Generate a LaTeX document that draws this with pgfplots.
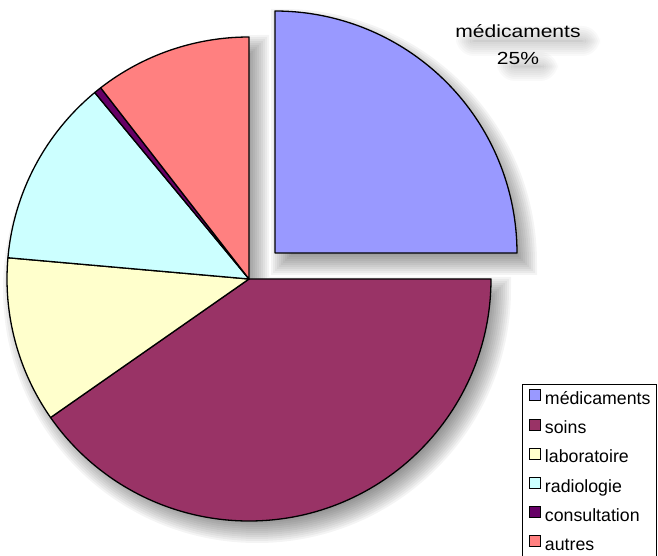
\documentclass[border=0pt]{standalone}
\usepackage{pgfplots}
\pgfplotsset{compat=1.18}
\usepackage{pgfplotstable}
\usepackage{graphicx}
\usepackage{fontspec}
\setmainfont{Liberation Sans}

\definecolor{cmed}{HTML}{9999FF}
\definecolor{csoins}{HTML}{993366}
\definecolor{clab}{HTML}{FFFFCC}
\definecolor{cradio}{HTML}{CCFFFF}
\definecolor{cconsult}{HTML}{660066}
\definecolor{cautres}{HTML}{FF8080}

\pgfplotstableread{
name value
médicaments 25
soins 40.3
laboratoire 11.1
radiologie 12.6
consultation 0.5
autres 10.5
}\piedata

\newcommand\getval[2]{\pgfplotstablegetelem{#1}{value}\of\piedata\edef#2{\pgfplotsretval}}

\begin{document}
\begin{tikzpicture}
\getval{0}\vA \getval{1}\vB \getval{2}\vC \getval{3}\vD \getval{4}\vE \getval{5}\vF
\pgfmathsetmacro\aA{90}
\pgfmathsetmacro\aB{\aA-3.6*\vA}
\pgfmathsetmacro\aC{\aB-3.6*\vB}
\pgfmathsetmacro\aD{\aC-3.6*\vC}
\pgfmathsetmacro\aE{\aD-3.6*\vD}
\pgfmathsetmacro\aF{\aE-3.6*\vE}
\pgfmathsetmacro\aG{\aF-3.6*\vF}
\def\R{242}
\def\cx{249}\def\cy{277}
\def\mx{275}\def\my{303}
\begin{axis}[hide axis, scale only axis, x=1bp, y=1bp,
  xmin=0, xmax=658, ymin=0, ymax=556, clip=false,
  legend style={at={(0.7933,0.3094)}, anchor=north west, draw=black, line width=1bp, fill=white,
    font=\fontsize{17.8}{20}\selectfont, inner xsep=6.5bp, inner ysep=5bp, row sep=10.7bp,
    nodes={inner sep=0pt, text height=12.5bp, text depth=3.5bp},
    /tikz/every odd column/.append style={column sep=4bp}},
  legend cell align=left,
  legend image code/.code={\draw[#1, line width=1bp] (0bp,-1bp) rectangle (11bp,10bp);},
]
% pie shadows
\pgfplotsinvokeforeach{-12,-10,...,12}{
  \fill[black, opacity=0.045] (axis cs:{\cx+8+#1},{\cy-10+#1}) -- (axis cs:{\cx+8+\R+#1},{\cy-10+#1})
    -- (axis cs:{\cx+8+\R+#1},{\cy-10}) arc[start angle=0, end angle=-270, radius={(\R+#1)*1bp}]
    -- (axis cs:{\cx+8+#1},{\cy-10+\R+#1}) -- cycle;
  \fill[black, opacity=0.045] (axis cs:{\mx+8-#1},{\my-10-#1}) -- (axis cs:{\mx+8-#1},{\my-10+\R+#1})
    -- (axis cs:{\mx+8},{\my-10+\R+#1}) arc[start angle=90, end angle=0, radius={(\R+#1)*1bp}]
    -- (axis cs:{\mx+8+\R+#1},{\my-10-#1}) -- cycle;
}
% label shadow (soft blur)
\pgfplotsinvokeforeach{-6,-4,...,10}{
  \fill[black, opacity=0.022, rounded corners={(8+#1)*1bp}] (axis cs:{466-#1},{510-#1}) rectangle (axis cs:{590+#1},{520+#1});
  \fill[black, opacity=0.022, rounded corners={(8+#1)*1bp}] (axis cs:{507-#1},{485-#1}) rectangle (axis cs:{548+#1},{494+#1});
}
% wedges
\tikzset{wedge/.style={draw=black, line width=1.3bp, line join=round}}
\filldraw[fill=cmed, wedge] (axis cs:\mx,\my) -- (axis cs:{\mx+\R*cos(\aA)},{\my+\R*sin(\aA)})
  arc[start angle=\aA, end angle=\aB, radius=242bp] -- cycle;
\filldraw[fill=csoins, wedge] (axis cs:\cx,\cy) -- (axis cs:{\cx+\R*cos(\aB)},{\cy+\R*sin(\aB)})
  arc[start angle=\aB, end angle=\aC, radius=242bp] -- cycle;
\filldraw[fill=clab, wedge] (axis cs:\cx,\cy) -- (axis cs:{\cx+\R*cos(\aC)},{\cy+\R*sin(\aC)})
  arc[start angle=\aC, end angle=\aD, radius=242bp] -- cycle;
\filldraw[fill=cradio, wedge] (axis cs:\cx,\cy) -- (axis cs:{\cx+\R*cos(\aD)},{\cy+\R*sin(\aD)})
  arc[start angle=\aD, end angle=\aE, radius=242bp] -- cycle;
\filldraw[fill=cconsult, wedge] (axis cs:\cx,\cy) -- (axis cs:{\cx+\R*cos(\aE)},{\cy+\R*sin(\aE)})
  arc[start angle=\aE, end angle=\aF, radius=242bp] -- cycle;
\filldraw[fill=cautres, wedge] (axis cs:\cx,\cy) -- (axis cs:{\cx+\R*cos(\aF)},{\cy+\R*sin(\aF)})
  arc[start angle=\aF, end angle=\aG, radius=242bp] -- cycle;
% label
\node[anchor=base, font=\fontsize{17.6}{20}\selectfont] at (axis cs:518,518) {\scalebox{1.2}[1]{médicaments}};
\node[anchor=base, font=\fontsize{17.6}{20}\selectfont] at (axis cs:518,491) {\scalebox{1.2}[1]{25\%}};
% legend
\addlegendimage{fill=cmed, draw=black}
\addlegendentry{médicaments}
\addlegendimage{fill=csoins, draw=black}
\addlegendentry{soins}
\addlegendimage{fill=clab, draw=black}
\addlegendentry{laboratoire}
\addlegendimage{fill=cradio, draw=black}
\addlegendentry{radiologie}
\addlegendimage{fill=cconsult, draw=black}
\addlegendentry{consultation}
\addlegendimage{fill=cautres, draw=black}
\addlegendentry{autres}
\end{axis}
\pgfresetboundingbox
\path (0,0) rectangle (658bp,556bp);
\end{tikzpicture}
\end{document}
